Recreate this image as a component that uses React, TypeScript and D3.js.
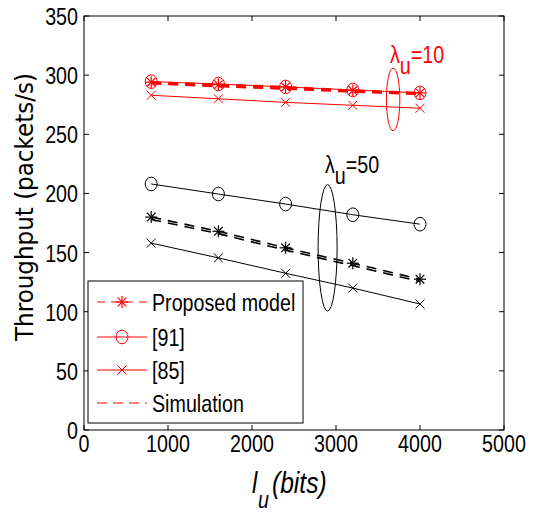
import React from "react";
import * as d3 from "d3";

const lengths = [800, 1600, 2400, 3200, 4000];
const red_proposed = [294, 292, 290, 287, 285];
const red_sim = [293, 290.5, 288.5, 286, 284];
const red_ref91 = [294.5, 292.5, 290, 287.5, 285];
const red_ref85 = [283, 280, 277, 274.5, 272];
const black_proposed = [180, 168, 154, 141, 127.5];
const black_sim = [178, 166, 152, 139, 125.5];
const black_ref91 = [208, 199.5, 191, 182, 174];
const black_ref85 = [158, 145.5, 132.5, 120, 106.5];
const xTicks = [0, 1000, 2000, 3000, 4000, 5000];
const yTicks = [0, 50, 100, 150, 200, 250, 300, 350];
const legendLabels = ["Proposed model", "[91]", "[85]", "Simulation"];

const W = 536;
const H = 513;
const SANS = "'Liberation Sans', Arial, sans-serif";
const SX = 0.82;

const x = d3.scaleLinear().domain([0, 5000]).range([84, 504]);
const y = d3.scaleLinear().domain([0, 350]).range([430, 16]);

type Marker = "star" | "circle" | "x" | "none";

function NText({ px, py, anchor, size = 24, fill = "#000", italic, children }: any) {
  return (
    <text
      transform={`translate(${px},${py}) scale(${SX},1)`}
      textAnchor={anchor || "start"}
      fontFamily={SANS}
      fontSize={size}
      fontStyle={italic ? "italic" : "normal"}
      fill={fill}
    >
      {children}
    </text>
  );
}

function MarkerShape({ cx, cy, kind, color }: { cx: number; cy: number; kind: Marker; color: string }) {
  if (kind === "circle") {
    return <ellipse cx={cx} cy={cy} rx={6} ry={6.8} fill="none" stroke={color} strokeWidth={1} />;
  }
  if (kind === "x") {
    const s = 4.5;
    return (
      <g stroke={color} strokeWidth={1}>
        <line x1={cx - s} y1={cy - s} x2={cx + s} y2={cy + s} />
        <line x1={cx - s} y1={cy + s} x2={cx + s} y2={cy - s} />
      </g>
    );
  }
  if (kind === "star") {
    const s = 6;
    const d = 4.3;
    return (
      <g stroke={color} strokeWidth={1.2}>
        <line x1={cx - s} y1={cy} x2={cx + s} y2={cy} />
        <line x1={cx} y1={cy - s} x2={cx} y2={cy + s} />
        <line x1={cx - d} y1={cy - d} x2={cx + d} y2={cy + d} />
        <line x1={cx - d} y1={cy + d} x2={cx + d} y2={cy - d} />
      </g>
    );
  }
  return null;
}

function Series({ values, color, dash, width, marker }: { values: number[]; color: string; dash?: string; width: number; marker: Marker }) {
  const line = d3
    .line<number>()
    .x((_, i) => x(lengths[i]))
    .y((v) => y(v));
  return (
    <g>
      <path d={line(values) || ""} fill="none" stroke={color} strokeWidth={width} strokeDasharray={dash} />
      {values.map((v, i) => (
        <MarkerShape key={i} cx={x(lengths[i])} cy={y(v)} kind={marker} color={color} />
      ))}
    </g>
  );
}

export default function App() {
  const red = "#ff0000";
  const black = "#000000";
  const dashMain = "10,7";
  const legendY = [302, 337, 370, 403];
  const legendMarkers: Marker[] = ["star", "circle", "x", "none"];
  const legendDash = ["8,6", undefined, undefined, "10,6"];

  return (
    <svg width={W} height={H} style={{ position: "absolute", left: 0, top: 0, background: "#fff" }}>
      <rect x={0} y={0} width={W} height={H} fill="#fff" />

      {/* red group lambda=10 */}
      <Series values={red_sim} color={red} dash={dashMain} width={2.2} marker="none" />
      <Series values={red_proposed} color={red} dash={dashMain} width={2.2} marker="star" />
      <Series values={red_ref91} color={red} width={1} marker="circle" />
      <Series values={red_ref85} color={red} width={1} marker="x" />

      {/* black group lambda=50 */}
      <Series values={black_sim} color={black} dash={dashMain} width={1.6} marker="none" />
      <Series values={black_proposed} color={black} dash={dashMain} width={1.6} marker="star" />
      <Series values={black_ref91} color={black} width={1} marker="circle" />
      <Series values={black_ref85} color={black} width={1} marker="x" />

      {/* annotation ellipses */}
      <ellipse cx={x(3680)} cy={y(279.5)} rx={x(3680) - x(3600)} ry={y(253) - y(279.5)} fill="none" stroke={red} strokeWidth={1} />
      <ellipse cx={x(2900)} cy={y(154)} rx={x(2900) - x(2787)} ry={y(100.5) - y(154)} fill="none" stroke={black} strokeWidth={1} />

      <NText px={x(3643)} py={y(310)} fill={red}>
        λ<tspan dy={11}>u</tspan><tspan dy={-11}>=10</tspan>
      </NText>
      <NText px={x(2869)} py={y(217)} fill={black}>
        λ<tspan dy={11}>u</tspan><tspan dy={-11}>=50</tspan>
      </NText>

      {/* axes box */}
      <rect x={84} y={16} width={420} height={414} fill="none" stroke="#000" strokeWidth={1} />
      {yTicks.map((t) => (
        <g key={"y" + t}>
          <line x1={x(0)} x2={x(0) + 5} y1={y(t)} y2={y(t)} stroke="#000" />
          <line x1={x(5000)} x2={x(5000) - 5} y1={y(t)} y2={y(t)} stroke="#000" />
          <NText px={78} py={y(t) + 9} anchor="end">
            {t}
          </NText>
        </g>
      ))}
      {xTicks.map((t) => (
        <g key={"x" + t}>
          <line x1={x(t)} x2={x(t)} y1={y(0)} y2={y(0) - 5} stroke="#000" />
          <line x1={x(t)} x2={x(t)} y1={y(350)} y2={y(350) + 5} stroke="#000" />
          <NText px={x(t)} py={452} anchor="middle">
            {t}
          </NText>
        </g>
      ))}

      {/* axis labels */}
      <text
        transform={`translate(33,207) rotate(-90) scale(0.96,1)`}
        textAnchor="middle"
        fontFamily="'DejaVu Sans', Verdana, sans-serif"
        fontSize={24}
        fill="#000"
      >
        Throughput (packets/s)
      </text>
      <NText px={252} py={493} size={29} italic>
        l
      </NText>
      <NText px={258} py={508} size={24} italic>
        u
      </NText>
      <NText px={272} py={493} size={30} italic>
        (bits)
      </NText>

      {/* legend */}
      <rect x={88} y={281} width={215} height={142} fill="#fff" stroke="#000" strokeWidth={1} />
      {legendLabels.map((lab, i) => (
        <g key={lab}>
          <line x1={97} x2={147} y1={legendY[i]} y2={legendY[i]} stroke={red} strokeWidth={1} strokeDasharray={legendDash[i]} />
          <MarkerShape cx={122} cy={legendY[i]} kind={legendMarkers[i]} color={red} />
          <NText px={152} py={legendY[i] + 8.5}>
            {lab}
          </NText>
        </g>
      ))}
    </svg>
  );
}
